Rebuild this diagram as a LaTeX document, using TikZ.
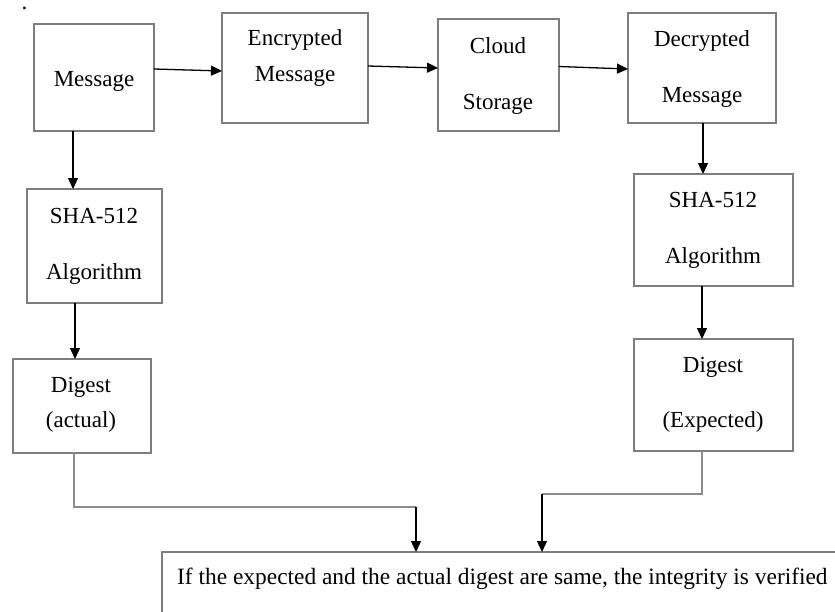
\documentclass[tikz,border=0pt]{standalone}
\usepackage{fontspec}
\setmainfont{Liberation Serif}
\usetikzlibrary{arrows.meta}
\definecolor{boxgray}{RGB}{125,125,125}
\definecolor{linegray}{RGB}{140,140,140}
\begin{document}
\begin{tikzpicture}[x=1pt,y=-1pt,
  box/.style={draw=boxgray, line width=1.3pt, rectangle, inner sep=0pt, outer sep=0pt},
  lbl/.style={inner sep=0pt, anchor=base, font=\fontsize{23}{27}\selectfont},
  arr/.style={draw=black, line width=1.3pt, -{Triangle[length=11pt,width=10pt]}},
  conn/.style={draw=linegray, line width=1.2pt}
]
\useasboundingbox (0,0) rectangle (835,611);
\clip (0,0) rectangle (835,611);

% boxes
\node[box, minimum width=120, minimum height=107] (msg) at (94,77.5) {};
\node[box, minimum width=146, minimum height=110] (enc) at (295,68) {};
\node[box, minimum width=121, minimum height=112] (cloud) at (498.5,75) {};
\node[box, minimum width=148, minimum height=110] (dec) at (702,68) {};
\node[box, minimum width=135, minimum height=114] (shaL) at (94.5,246) {};
\node[box, minimum width=138, minimum height=94] (digL) at (82,406) {};
\node[box, minimum width=159, minimum height=112] (shaR) at (713.5,230) {};
\node[box, minimum width=159, minimum height=112] (digR) at (713.5,395) {};
\node[box, anchor=north west, minimum width=720, minimum height=110] (res) at (162,552) {};

% labels
\node[lbl, anchor=base west, text height=3pt, text depth=0pt] (dot) at (21.5,9) {.};
\node[lbl] (msgT) at (94,86) {Message};
\node[lbl] (encT1) at (295,45) {Encrypted};
\node[lbl] (encT2) at (295,81) {Message};
\node[lbl] (cloudT1) at (498,53) {Cloud};
\node[lbl] (cloudT2) at (498,109) {Storage};
\node[lbl] (decT1) at (702,46) {Decrypted};
\node[lbl] (decT2) at (702,102) {Message};
\node[lbl] (shaLT1) at (94,223) {SHA-512};
\node[lbl] (shaLT2) at (94,279) {Algorithm};
\node[lbl] (digLT1) at (81,392) {Digest};
\node[lbl] (digLT2) at (81,427) {(actual)};
\node[lbl] (shaRT1) at (713,207) {SHA-512};
\node[lbl] (shaRT2) at (713,263) {Algorithm};
\node[lbl] (digRT1) at (713,372) {Digest};
\node[lbl] (digRT2) at (713,427) {(Expected)};
\node[lbl, anchor=base west, font=\fontsize{23.4}{27}\selectfont] (resT) at (177,584)
  {If the expected and the actual digest are same, the integrity is verified};

% top row arrows
\draw[arr] ([yshift=8.5pt]msg.east) -- ([yshift=-3pt]enc.west);
\draw[arr] ([yshift=2pt]enc.east) -- ([yshift=7pt]cloud.west);
\draw[arr] ([yshift=8.5pt]cloud.east) -- ([yshift=-1pt]dec.west);

% vertical arrows
\draw[arr] ([xshift=-21pt]msg.south) -- ([xshift=-21.5pt]shaL.north);
\draw[arr] ([xshift=-19.5pt]shaL.south) -- ([xshift=-7pt]digL.north);
\draw[arr] ([xshift=1pt]dec.south) -- ([xshift=-10.5pt]shaR.north);
\draw[arr] ([xshift=-11.5pt]shaR.south) -- ([xshift=-11.5pt]digR.north);

% connectors to result
\coordinate (cl) at ([xshift=-8pt]digL.south |- 0,507);
\coordinate (cla) at (416,507);
\draw[conn] ([xshift=-8pt]digL.south) -- (cl) -- (cla);
\draw[arr] (cla) -- (cla |- res.north);
\coordinate (cr) at ([xshift=-11.5pt]digR.south |- 0,494);
\coordinate (cra) at (542,494);
\draw[conn] ([xshift=-11.5pt]digR.south) -- (cr) -- (cra);
\draw[arr] (cra) -- (cra |- res.north);
\end{tikzpicture}
\end{document}
